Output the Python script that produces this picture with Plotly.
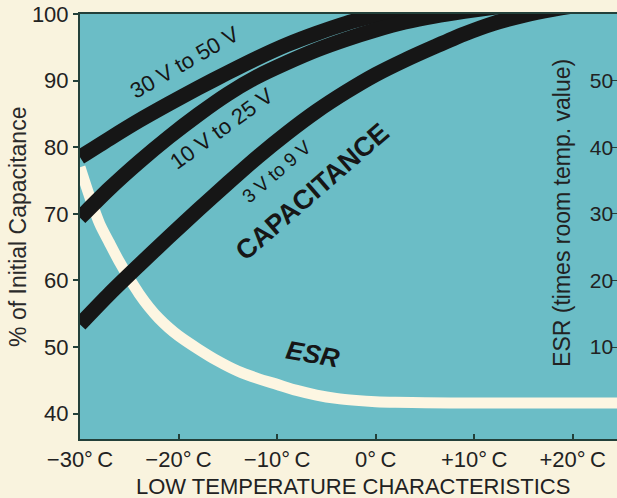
import plotly.graph_objects as go

# ---- data ----
temp_30_50 = [-30, -27, -24, -21, -18, -15, -12, -9, -6, -3, 0, 3, 6, 9, 12, 15, 20, 24.5]
cap_30_50 = [78.5, 81.3, 84.0, 86.5, 88.9, 91.2, 93.4, 95.4, 97.1, 98.6, 99.8, 100.8, 101.6, 102.2, 102.7, 103.0, 103.3, 103.5]

temp_10_25 = [-30, -27, -24, -21, -18, -15, -12, -9, -6, -3, 0, 3, 6, 9, 12, 15, 20, 24.5]
cap_10_25 = [69.4, 73.8, 77.8, 81.5, 84.9, 88.0, 90.6, 92.7, 94.6, 96.2, 97.6, 98.8, 99.7, 100.4, 101.0, 101.6, 102.4, 103.0]

temp_3_9 = [-30, -27, -24, -21, -18, -15, -12, -9, -6, -3, 0, 3, 6, 9, 12, 15, 18, 21, 24.5]
cap_3_9 = [53.4, 58.0, 62.3, 66.5, 70.6, 74.6, 78.5, 82.1, 85.4, 88.3, 90.9, 93.1, 95.1, 97.0, 98.6, 99.8, 100.7, 101.4, 102.0]

temp_esr = [-30, -29, -28, -27, -26, -25, -24, -23, -22, -21, -20, -18, -16, -14, -12, -10, -8, -6, -4, -2, 0, 2, 5, 10, 15, 20, 24.5]
esr_vals = [37.0, 32.5, 28.5, 25.6, 22.8, 20.3, 18.0, 16.0, 14.3, 12.9, 11.7, 9.7, 7.9, 6.4, 5.3, 4.4, 3.5, 2.8, 2.3, 2.0, 1.8, 1.7, 1.65, 1.6, 1.6, 1.6, 1.6]

x_tickvals = [-30, -20, -10, 0, 10, 20]
x_ticktext = ["\u221230\u00b0\u2009C", "\u221220\u00b0\u2009C", "\u221210\u00b0\u2009C",
              "0\u00b0\u2009C", "+10\u00b0\u2009C", "+20\u00b0\u2009C"]
cap_ticks = [40, 50, 60, 70, 80, 90, 100]
esr_ticks = [10, 20, 30, 40, 50]

# ---- styles ----
TEAL = "#6bbdc6"
PAGE = "#f9f3de"
CREAM = "#fdf6e2"
INK = "#161616"
AXIS = "#23403a"
FONT = "Liberation Sans, Arial, sans-serif"

fig = go.Figure()

# ESR drawn first (beneath) on primary y (right side)
fig.add_trace(go.Scatter(x=temp_esr, y=esr_vals, mode="lines",
                         line=dict(color=CREAM, width=11, shape="spline", smoothing=0.8),
                         yaxis="y", hoverinfo="skip", showlegend=False))

for tx, cy in [(temp_30_50, cap_30_50), (temp_10_25, cap_10_25), (temp_3_9, cap_3_9)]:
    fig.add_trace(go.Scatter(x=tx, y=cy, mode="lines",
                             line=dict(color=INK, width=15, shape="spline", smoothing=0.8),
                             yaxis="y2", hoverinfo="skip", showlegend=False))

annos = [
    dict(text="30 V to 50 V", x=-19.4, y=92.7, textangle=-30, font=dict(size=22, color=INK, family=FONT)),
    dict(text="10 V to 25 V", x=-15.6, y=82.8, textangle=-36, font=dict(size=22, color=INK, family=FONT)),
    dict(text="3 V to 9 V", x=-10.0, y=76.3, textangle=-41, font=dict(size=19, color=INK, family=FONT)),
    dict(text="<b>CAPACITANCE</b>", x=-6.45, y=73.3, textangle=-41, font=dict(size=27, color=INK, family=FONT)),
    dict(text="<b><i>ESR</i></b>", x=-6.35, y=49.0, textangle=10, font=dict(size=26, color=INK, family=FONT)),
]
for a in annos:
    a.update(xref="x", yref="y2", showarrow=False, xanchor="center", yanchor="middle")

annos += [
    dict(text="LOW TEMPERATURE CHARACTERISTICS", xref="paper", yref="paper", x=0.508, y=-0.1106,
         showarrow=False, xanchor="center", yanchor="middle", font=dict(size=22, color="#222", family=FONT)),
    dict(text="% of Initial Capacitance", xref="paper", yref="paper", x=-0.1155, y=0.499,
         textangle=-90, showarrow=False, xanchor="center", yanchor="middle",
         font=dict(size=23, color="#2a2a2a", family=FONT)),
    dict(text="ESR (times room temp. value)", xref="paper", yref="paper", x=0.8976, y=0.532,
         textangle=-90, showarrow=False, xanchor="center", yanchor="middle",
         font=dict(size=23, color="#222", family=FONT)),
]

fig.update_layout(
    width=617, height=498,
    margin=dict(l=80, r=0, t=14, b=59),
    paper_bgcolor=PAGE, plot_bgcolor=TEAL,
    showlegend=False,
    font=dict(family=FONT, color="#222"),
    xaxis=dict(range=[-30, 24.5], tickvals=x_tickvals, ticktext=x_ticktext,
               ticks="inside", ticklen=5, tickcolor=AXIS, tickwidth=1.5,
               showline=True, linecolor=AXIS, linewidth=2, mirror=True,
               showgrid=False, zeroline=False,
               tickfont=dict(size=22, color="#222", family=FONT)),
    yaxis=dict(range=[-3.8, 60], side="right", tickvals=esr_ticks,
               ticks="inside", ticklen=5, tickcolor=AXIS, ticklabelposition="inside",
               showline=False, showgrid=False, zeroline=False,
               tickfont=dict(size=21, color="#222", family=FONT)),
    yaxis2=dict(range=[36.2, 100], side="left", overlaying="y", tickvals=cap_ticks,
                ticks="outside", ticklen=5, tickcolor=AXIS, tickwidth=1.5,
                showline=True, linecolor=AXIS, linewidth=2,
                showgrid=False, zeroline=False,
                tickfont=dict(size=22, color="#222", family=FONT)),
    annotations=annos,
)

fig.write_html("out.html", config={"displayModeBar": False},
               post_script="document.body.style.margin='0';document.body.style.overflow='hidden';")
